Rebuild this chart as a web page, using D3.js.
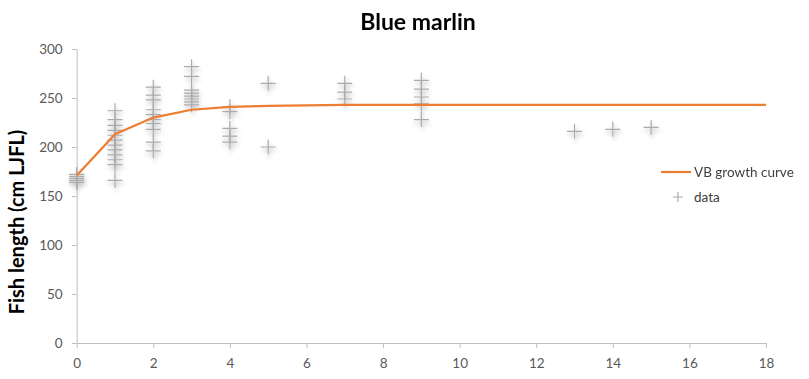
<!DOCTYPE html>
<html>
<head>
<meta charset="utf-8">
<script src="https://cdn.jsdelivr.net/npm/d3@7"></script>
<style>
  body { margin: 0; background: #fff; }
  svg { display: block; }
  .axis path, .axis line { stroke: #bfbfbf; }
  .axis text { fill: #595959; font-family: Lato, "Open Sans", sans-serif; font-size: 13.5px; }
</style>
</head>
<body>
<div id="chart"></div>
<script>
// age (years) and length (cm LJFL) of each sampled fish
var dataAge = [0,0,0,0,0,
  1,1,1,1,1,1,1,1,1,1,1,1,
  2,2,2,2,2,2,2,2,2,2,
  3,3,3,3,3,3,3,3,
  4,4,4,4,4,
  5,5,
  7,7,7,
  9,9,9,9,9,
  13,14,15];
var dataLength = [172,170,168,166,164,
  237,228,222,217,212,207,202,197,192,187,182,166,
  261,253,248,238,233,228,224,218,205,196,
  282,272,258,255,252,249,246,243,
  241,236,219,211,205,
  265,200,
  265,256,249,
  268,259,251,244,228,
  216,218,220];

// fitted VB growth curve, read at each whole year
var curveAge = [0,1,2,3,4,5,6,7,8,9,10,11,12,13,14,15,16,17,18];
var curveLength = [171,213,230,238,241,242,242.5,243,243,243,243,243,243,243,243,243,243,243,243];

var xTicks = [0,2,4,6,8,10,12,14,16,18];
var yTicks = [0,50,100,150,200,250,300];

var w = 809;
var h = 379;

var svg = d3.select("#chart")
  .append("svg")
  .attr("width", w)
  .attr("height", h);

var defs = svg.append("defs");
var shadow = defs.append("filter")
  .attr("id", "shadow")
  .attr("x", "-50%").attr("y", "-50%")
  .attr("width", "200%").attr("height", "200%");
shadow.append("feDropShadow")
  .attr("dx", 1)
  .attr("dy", 3)
  .attr("stdDeviation", 2)
  .attr("flood-color", "#000")
  .attr("flood-opacity", 0.3);

var xScale = d3.scaleLinear()
  .domain([0, 18])
  .range([76.7, 766]);

var yScale = d3.scaleLinear()
  .domain([0, 300])
  .range([343, 49]);

//Define X axis
var xAxis = d3.axisBottom(xScale)
  .tickValues(xTicks)
  .tickSize(5)
  .tickSizeOuter(0)
  .tickPadding(10);

//Define Y axis
var yAxis = d3.axisLeft(yScale)
  .tickValues(yTicks)
  .tickSize(5)
  .tickSizeOuter(0)
  .tickPadding(9);

svg.append("g")
  .attr("class", "x axis")
  .attr("transform", "translate(0," + yScale(0) + ")")
  .call(xAxis);

svg.append("g")
  .attr("class", "y axis")
  .attr("transform", "translate(" + xScale(0) + ",0)")
  .call(yAxis);

//Data markers
svg.append("g")
  .attr("filter", "url(#shadow)")
  .selectAll("path")
  .data(dataAge)
  .enter()
  .append("path")
  .attr("transform", function(d, i) {
    return "translate(" + xScale(d) + "," + yScale(dataLength[i]) + ")";
  })
  .attr("d", "M-7.5,0H7.5M0,-7.5V7.5")
  .attr("stroke", "#ababab")
  .attr("stroke-width", 1.2)
  .attr("fill", "none");

//Growth curve
var line = d3.line()
  .x(function(d, i) { return xScale(d); })
  .y(function(d, i) { return yScale(curveLength[i]); });

svg.append("path")
  .datum(curveAge)
  .attr("d", line)
  .attr("fill", "none")
  .attr("stroke", "#ed7d31")
  .attr("stroke-width", 2.2);

//Title
svg.append("text")
  .attr("x", 418)
  .attr("y", 30)
  .attr("text-anchor", "middle")
  .style("font-family", "Lato, 'Open Sans', sans-serif")
  .style("font-weight", "bold")
  .style("font-size", "23px")
  .attr("fill", "#000")
  .text("Blue marlin");

//Y label
svg.append("text")
  .attr("text-anchor", "middle")
  .attr("transform", "translate(24,222)rotate(-90)")
  .style("font-family", "Lato, 'Open Sans', sans-serif")
  .style("font-weight", "bold")
  .style("font-size", "20px")
  .attr("fill", "#000")
  .text("Fish length (cm LJFL)");

//Legend
var legend = svg.append("g")
  .style("font-family", "Lato, 'Open Sans', sans-serif")
  .style("font-size", "13.5px");

legend.append("line")
  .attr("x1", 661).attr("x2", 691)
  .attr("y1", 172).attr("y2", 172)
  .attr("stroke", "#ed7d31")
  .attr("stroke-width", 2.2);

legend.append("text")
  .attr("x", 694).attr("y", 176.5)
  .attr("fill", "#404040")
  .text("VB growth curve");

legend.append("path")
  .attr("transform", "translate(678,197)")
  .attr("d", "M-5,0H5M0,-5V5")
  .attr("stroke", "#ababab")
  .attr("stroke-width", 1.2);

legend.append("text")
  .attr("x", 694).attr("y", 201.5)
  .attr("fill", "#404040")
  .text("data");
</script>
</body>
</html>
